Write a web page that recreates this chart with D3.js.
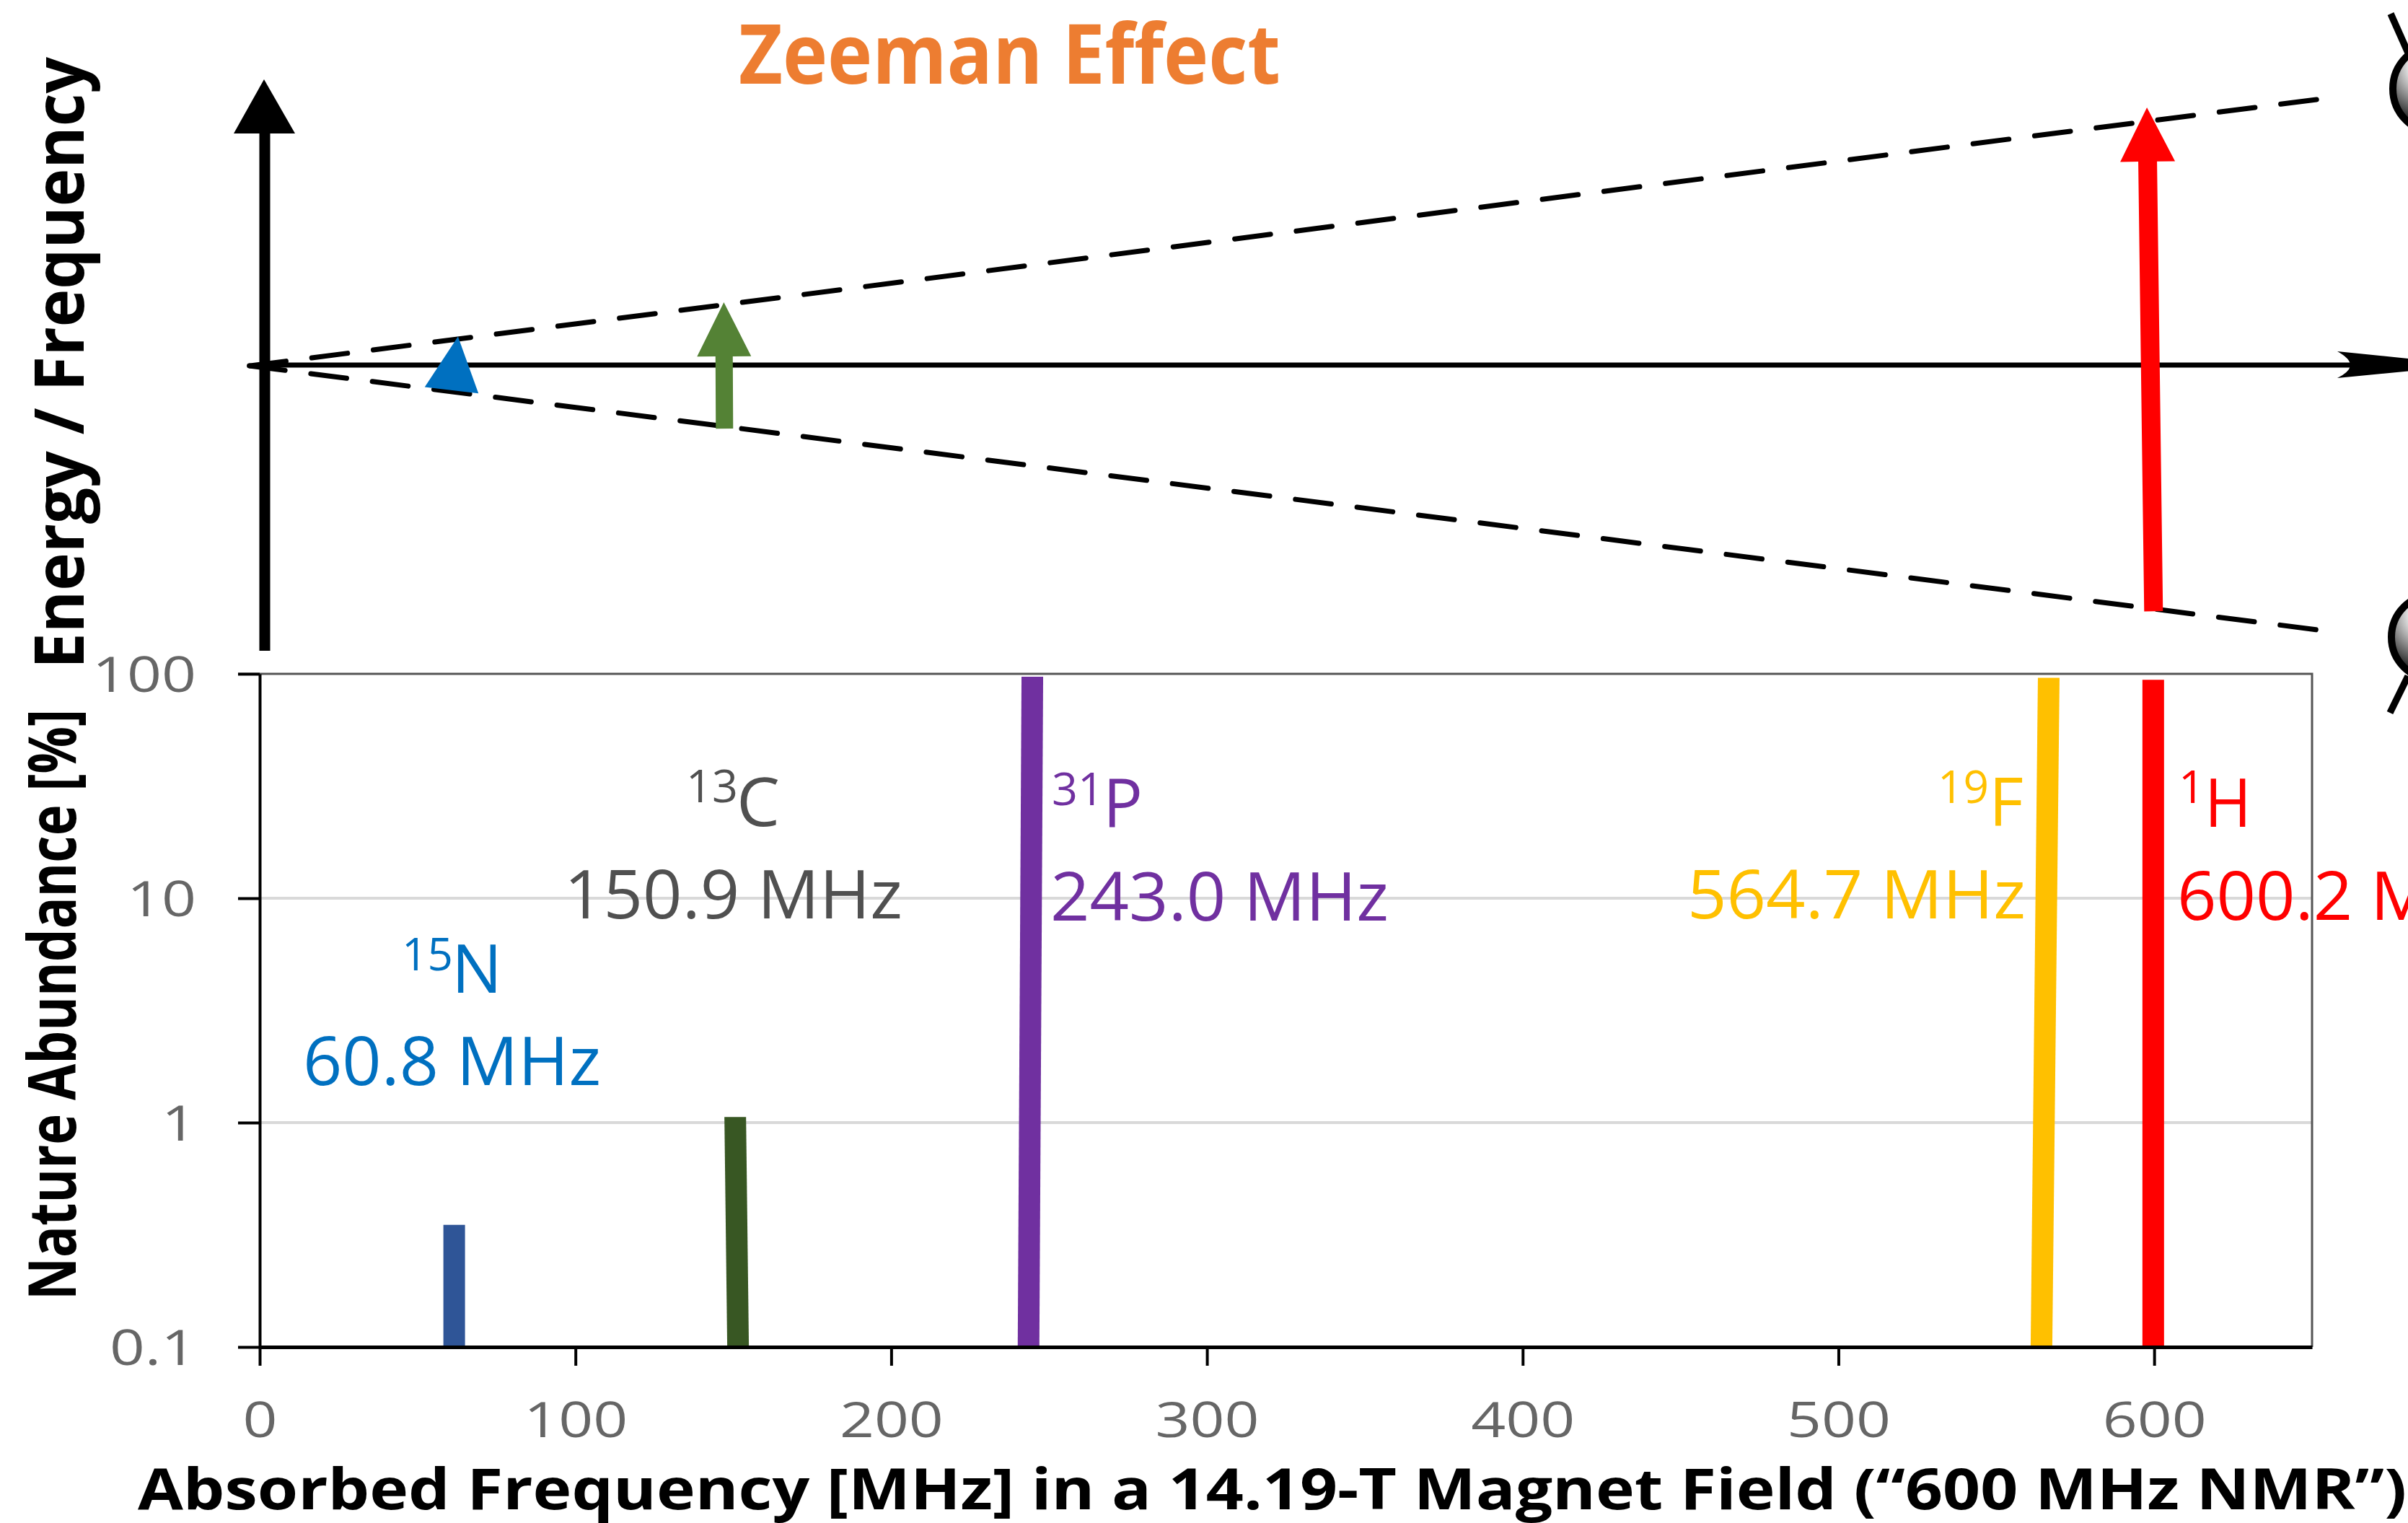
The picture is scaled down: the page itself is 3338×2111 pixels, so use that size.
<!DOCTYPE html>
<html>
<head>
<meta charset="utf-8">
<script src="https://cdn.jsdelivr.net/npm/d3@7"></script>
<style>
    html, body { margin: 0; padding: 0; background: #fff; }
    svg { display: block; font-family: "Open Sans", sans-serif; }
</style>
</head>
<body>
<div id="svg-canvas"></div>
<script>
'use strict';

// values
const isotopes = ['N', 'C', 'P', 'F', 'H'];
const massNumbers = ['15', '13', '31', '19', '1'];
const frequencyLabels = ['60.8 MHz', '150.9 MHz', '243.0 MHz', '564.7 MHz', '600.2 MHz'];
const lineBaseMHz = [61.6, 151.5, 243.5, 564.3, 599.7];
const lineTopMHz = [61.6, 150.6, 244.7, 566.6, 599.7];
const abundance = [0.35, 1.06, 97, 96, 94];

const xTicks = [0, 100, 200, 300, 400, 500, 600];
const yTicks = [0.1, 1, 10, 100];

// Zeeman diagram: frequency in MHz, energy in the same arbitrary unit
const arrowBaseMHz = [60.8, 147.2, 599.8];
const arrowTipMHz = [62.8, 147.0, 597.7];
const arrowBaseEnergy = [-30, -78, -302];
const arrowTipEnergy = [35, 77, 316];
const upperLevelMHz = [-3, 653];
const upperLevelEnergy = [-0.9, 326.5];
const lowerLevelMHz = [-3.3, 652.2];
const lowerLevelEnergy = [-0.9, -325];

// styles and layout
const lineColors = ['#2f5597', '#385723', '#7030a0', '#ffc000', '#ff0000'];
const labelColors = ['#0070c0', '#505050', '#7030a0', '#ffc000', '#ff0000'];
const arrowColors = ['#0070c0', '#548235', '#ff0000'];
const arrowHead = [{ len: 75, w: 75, stem: 0 }, { len: 75, w: 75, stem: 24 }, { len: 75, w: 76, stem: 26 }];
const labelFreqPos = [[420, 1504, 413], [782, 1273, 469], [1456, 1276, 469], [2339, 1273, 469], [3018, 1275, 469]];
const labelMassPos = [[557, 1345, 71], [951, 1112, 72], [1458, 1116, 72], [2686, 1113, 71], [3020, 1113, 36]];
const labelElemPos = [[626, 1376, 70], [1021, 1145, 60], [1529, 1146, 55], [2757, 1145, 48], [3056, 1146, 65]];

const width = 3338;
const height = 2111;
const plot = { left: 360, right: 3205, top: 934, bottom: 1867 };
const lineWidth = 30;

const svg = d3.select("#svg-canvas")
    .append('svg')
    .attr("width", width)
    .attr("height", height)
    .attr("viewBox", `0 0 ${width} ${height}`);

const x = d3.scaleLinear().domain([0, 650]).range([plot.left, plot.right]);
const y = d3.scaleLog().domain([0.1, 100]).range([plot.bottom, plot.top]);
const energy = d3.scaleLinear().domain([-300, 300]).range([845, 167]);

function addText(str, xPos, yPos, size, len, color, weight) {
    return svg.append("text")
        .attr("x", xPos)
        .attr("y", yPos)
        .attr("font-size", size)
        .attr("font-weight", weight || 400)
        .attr("fill", color)
        .attr("textLength", len)
        .attr("lengthAdjust", "spacingAndGlyphs")
        .text(str);
}

function addVerticalText(str, xPos, yBottom, size, len, color) {
    return svg.append("text")
        .attr("transform", `translate(${xPos},${yBottom}) rotate(-90)`)
        .attr("font-size", size)
        .attr("font-weight", 700)
        .attr("fill", color)
        .attr("textLength", len)
        .attr("lengthAdjust", "spacingAndGlyphs")
        .text(str);
}

// ---- spin balls on the right edge ----
const defs = svg.append("defs");
function addBallGradient(id, cx, cy) {
    const g = defs.append("radialGradient")
        .attr("id", id)
        .attr("gradientUnits", "userSpaceOnUse")
        .attr("cx", cx).attr("cy", cy).attr("r", 88);
    g.append("stop").attr("offset", "25%").attr("stop-color", "#fff");
    g.append("stop").attr("offset", "100%").attr("stop-color", "#000");
}
addBallGradient("ball-up", 3368, 92);
addBallGradient("ball-down", 3368, 852);

svg.append("circle").attr("cx", 3378.6).attr("cy", 123).attr("r", 61.6)
    .attr("fill", "url(#ball-up)").attr("stroke", "#000").attr("stroke-width", 10);
svg.append("circle").attr("cx", 3374).attr("cy", 883).attr("r", 59)
    .attr("fill", "url(#ball-down)").attr("stroke", "#000").attr("stroke-width", 10);
svg.append("path").attr("d", d3.line()([[3314, 19], [3338, 73]]))
    .attr("stroke", "#000").attr("stroke-width", 9.5);
svg.append("path").attr("d", d3.line()([[3313, 988], [3338, 937]]))
    .attr("stroke", "#000").attr("stroke-width", 9.5);

// ---- Zeeman diagram ----
addText("Zeeman Effect", 1024, 116, 114, 751, "#ed7d31", 700);

svg.append("path")
    .attr("stroke", "#000").attr("stroke-width", 7)
    .attr("d", d3.line()([[366, 506], [3262, 506]]));
svg.append("path")
    .attr("fill", "#000")
    .attr("d", "M3240,487 Q3258,497 3258,506 Q3258,515 3240,524 L3426,506 Z");

svg.append("path")
    .attr("stroke", "#000").attr("stroke-width", 15)
    .attr("d", d3.line()([[367, 902], [367, 180]]));
svg.append("path")
    .attr("fill", "#000")
    .attr("d", "M324,185 L366,110 L409,185 Z");

const levelLine = d3.line().x(d => x(d[0])).y(d => energy(d[1]));
[[upperLevelMHz, upperLevelEnergy], [lowerLevelMHz, lowerLevelEnergy]].forEach(([mhz, e]) => {
    svg.append("path")
        .attr("fill", "none")
        .attr("stroke", "#000")
        .attr("stroke-width", 7)
        .attr("stroke-linecap", "round")
        .attr("stroke-dasharray", "50,36")
        .attr("d", levelLine(d3.zip(mhz, e)));
});

function arrowPath(base, tip, head) {
    const len = Math.hypot(tip[0] - base[0], tip[1] - base[1]);
    const u = [(tip[0] - base[0]) / len, (tip[1] - base[1]) / len];
    const n = [-u[1], u[0]];
    const neck = [tip[0] - u[0] * head.len, tip[1] - u[1] * head.len];
    const at = (p, k) => [p[0] + n[0] * k, p[1] + n[1] * k];
    const pts = head.stem > 0
        ? [at(base, -head.stem / 2), at(neck, -head.stem / 2), at(neck, -head.w / 2), tip,
            at(neck, head.w / 2), at(neck, head.stem / 2), at(base, head.stem / 2)]
        : [at(neck, -head.w / 2), tip, at(neck, head.w / 2)];
    return d3.line()(pts) + "Z";
}

svg.selectAll("path.transition")
    .data(arrowColors)
    .join("path")
    .attr("class", "transition")
    .attr("fill", d => d)
    .attr("d", (d, i) => arrowPath(
        [x(arrowBaseMHz[i]), energy(arrowBaseEnergy[i])],
        [x(arrowTipMHz[i]), energy(arrowTipEnergy[i])],
        arrowHead[i]));

addVerticalText("Energy / Frequency", 116, 927, 95, 848, "#000");

// ---- abundance plot ----
svg.selectAll("line.grid")
    .data([1, 10])
    .join("line")
    .attr("class", "grid")
    .attr("x1", plot.left).attr("x2", plot.right)
    .attr("y1", d => y(d)).attr("y2", d => y(d))
    .attr("stroke", "#d9d9d9").attr("stroke-width", 4);

svg.append("path")
    .attr("fill", "none").attr("stroke", "#555").attr("stroke-width", 3)
    .attr("d", d3.line()([[330, plot.top], [plot.right, plot.top], [plot.right, plot.bottom]]));

svg.selectAll("path.nmr-line")
    .data(isotopes)
    .join("path")
    .attr("class", "nmr-line")
    .attr("fill", (d, i) => lineColors[i])
    .attr("d", (d, i) => {
        const yTop = y(abundance[i]);
        const half = lineWidth / 2;
        return d3.line()([
            [x(lineBaseMHz[i]) - half, plot.bottom],
            [x(lineTopMHz[i]) - half, yTop],
            [x(lineTopMHz[i]) + half, yTop],
            [x(lineBaseMHz[i]) + half, plot.bottom]
        ]) + "Z";
    });

const xAxis = svg.append("g")
    .attr("transform", `translate(0,${plot.bottom})`)
    .call(d3.axisBottom(x).tickValues(xTicks).tickFormat(d3.format("d")).tickSize(26).tickSizeOuter(0));
const yAxis = svg.append("g")
    .attr("transform", `translate(${plot.left},0)`)
    .call(d3.axisLeft(y).tickValues(yTicks).tickFormat(d => String(d)).tickSize(30).tickSizeOuter(0));

xAxis.selectAll("line").attr("stroke", "#000").attr("stroke-width", 4);
xAxis.select(".domain").attr("stroke", "#000").attr("stroke-width", 5);
yAxis.selectAll("line").attr("stroke", "#000").attr("stroke-width", 4);
yAxis.select(".domain").attr("stroke", "#000").attr("stroke-width", 4);

xAxis.selectAll("text")
    .attr("y", 125)
    .attr("dy", 0)
    .attr("font-size", 68)
    .attr("font-family", '"Open Sans", sans-serif')
    .attr("fill", "#666")
    .attr("textLength", d => String(d).length * 48)
    .attr("lengthAdjust", "spacingAndGlyphs");
yAxis.selectAll("text")
    .attr("x", -88)
    .attr("dy", 24)
    .attr("font-size", 68)
    .attr("font-family", '"Open Sans", sans-serif')
    .attr("fill", "#666")
    .attr("textLength", d => d === 0.1 ? 120 : String(d).length * 48)
    .attr("lengthAdjust", "spacingAndGlyphs");

isotopes.forEach((el, i) => {
    const c = labelColors[i];
    addText(massNumbers[i], labelMassPos[i][0], labelMassPos[i][1], 62, labelMassPos[i][2], c);
    addText(el, labelElemPos[i][0], labelElemPos[i][1], 94, labelElemPos[i][2], c);
    addText(frequencyLabels[i], labelFreqPos[i][0], labelFreqPos[i][1], 94, labelFreqPos[i][2], c);
});

addVerticalText("Nature Abundance [%]", 105, 1802, 92, 819, "#000");
addText("Absorbed Frequency [MHz] in a 14.19-T Magnet Field (“600 MHz NMR”)", 191, 2092, 78, 3145, "#000", 700);
</script>
</body>
</html>
